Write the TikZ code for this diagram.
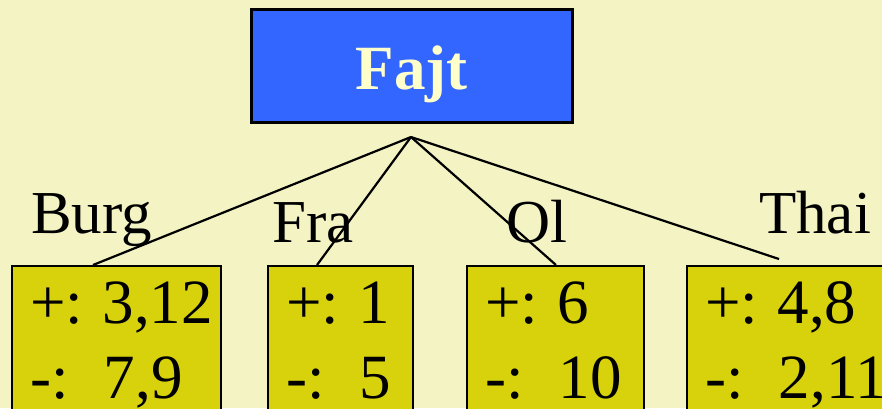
\documentclass[tikz,border=0pt]{standalone}
\usepackage{fontspec}
\setmainfont{Liberation Serif}
\frenchspacing
\definecolor{bgc}{RGB}{243,243,196}
\definecolor{topblue}{RGB}{51,102,255}
\definecolor{cream}{RGB}{255,255,204}
\definecolor{boxfill}{RGB}{216,210,12}
\newcommand{\psp}{\hspace{0.31em}}
\newcommand{\msp}{\hspace{0.56em}}
\tikzset{
  topbox/.style={draw=black, line width=3pt, fill=topblue, rectangle, inner sep=0pt, minimum width=321pt, minimum height=113pt},
  leafbox/.style={draw=black, line width=2pt, fill=boxfill, rectangle, inner sep=0pt, anchor=north west, minimum height=200pt},
  lbl/.style={font=\fontsize{61}{61}\selectfont, inner sep=0pt, anchor=base west},
  boxtxt/.style={font=\fontsize{63}{63}\selectfont, inner sep=0pt, anchor=base west},
  conn/.style={line width=2.2pt, black}
}
\begin{document}
\begin{tikzpicture}[x=1pt,y=-1pt]
\useasboundingbox (0,0) rectangle (882,408);
\clip (0,0) rectangle (882,408);
\fill[bgc] (0,0) rectangle (882,408);
% top box
\node[topbox] (fajt) at (411.5,65.5) {};
\node[font=\fontsize{63}{63}\selectfont\bfseries, text=cream, inner sep=0pt, anchor=base] (fajtlbl) at (411.5,89) {Fajt};
% leaf boxes
\node[leafbox, minimum width=209pt] (burg) at (11,265) {};
\node[leafbox, minimum width=145pt] (fra) at (267,265) {};
\node[leafbox, minimum width=177pt] (ol) at (466,265) {};
\node[leafbox, minimum width=260pt] (thai) at (686,265) {};
% box texts
\node[boxtxt] (burgp) at (30,323) {+:\psp 3,12};
\node[boxtxt] (burgm) at (30,398) {-:\msp 7,9};
\node[boxtxt] (frap) at (286,323) {+:\psp 1};
\node[boxtxt] (fram) at (286,398) {-:\msp 5};
\node[boxtxt] (olp) at (485,323) {+:\psp 6};
\node[boxtxt] (olm) at (485,398) {-:\msp 10};
\node[boxtxt] (thaip) at (705,323) {+:\psp 4,8};
\node[boxtxt] (thaim) at (705,398) {-:\msp 2,11};
% branch labels
\node[lbl] (lburg) at (31,233) {Burg};
\node[lbl] (lfra) at (272,242) {Fra};
\node[lbl] (lol) at (506,242) {Ol};
\node[lbl] (lthai) at (759,233) {Thai};
% connectors
\coordinate (apex) at (411,137);
\coordinate (eburg) at ([xshift=-23.5pt]burg.north);
\coordinate (efra) at ([xshift=-23.5pt]fra.north);
\coordinate (eol) at ([xshift=0.5pt]ol.north);
\coordinate (ethai) at (779,259);
\draw[conn] (apex) -- (eburg);
\draw[conn] (apex) -- (efra);
\draw[conn] (apex) -- (eol);
\draw[conn] (apex) -- (ethai);
\end{tikzpicture}
\end{document}
